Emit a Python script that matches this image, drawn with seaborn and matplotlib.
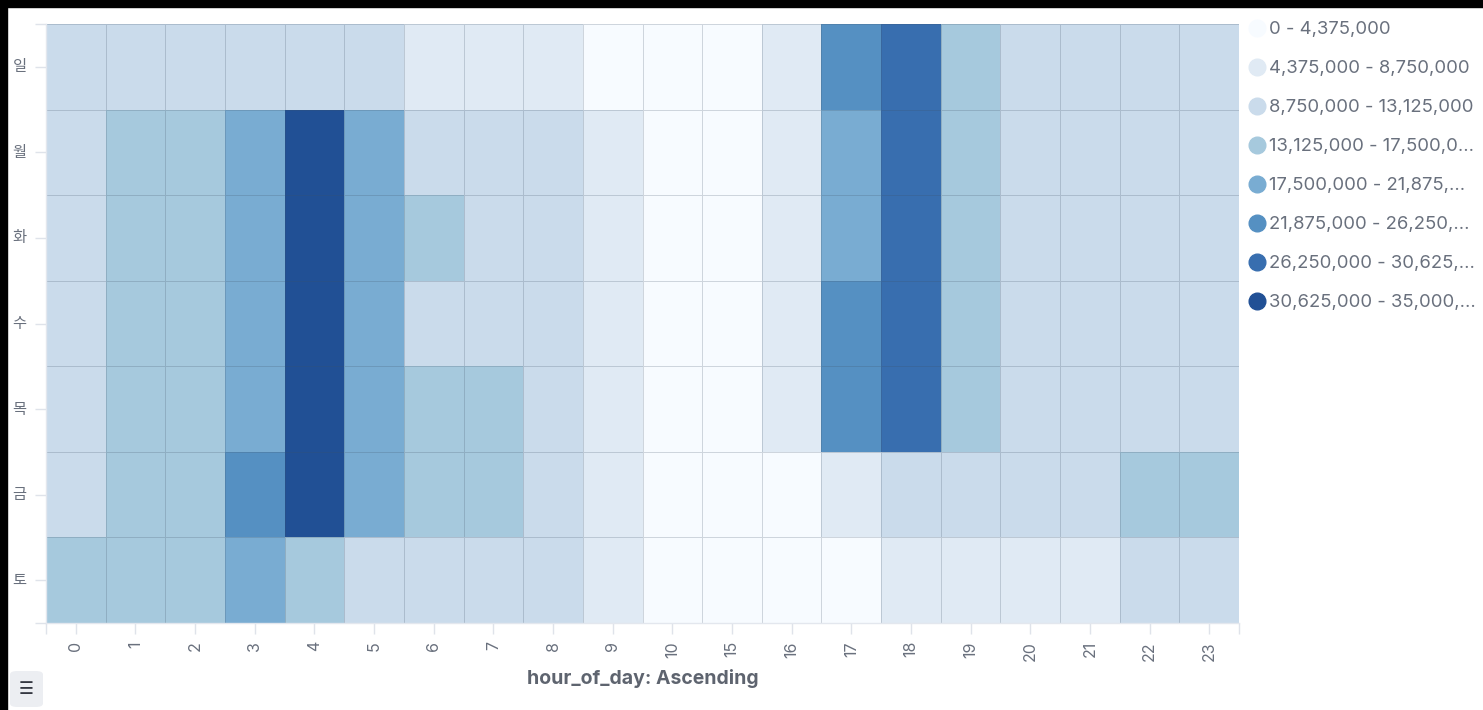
import numpy as np
import pandas as pd
import matplotlib
matplotlib.use("Agg")
import matplotlib.pyplot as plt
from matplotlib.colors import ListedColormap
from matplotlib.lines import Line2D
from matplotlib.patches import Rectangle, FancyBboxPatch
import seaborn as sns

# ---- data (colour class of each cell) ----
days = ["일", "월", "화", "수", "목", "금", "토"]
hours = ["0", "1", "2", "3", "4", "5", "6", "7", "8", "9", "10",
         "15", "16", "17", "18", "19", "20", "21", "22", "23"]
row_sun = [2, 2, 2, 2, 2, 2, 1, 1, 1, 0, 0, 0, 1, 5, 6, 3, 2, 2, 2, 2]
row_mon = [2, 3, 3, 4, 7, 4, 2, 2, 2, 1, 0, 0, 1, 4, 6, 3, 2, 2, 2, 2]
row_tue = [2, 3, 3, 4, 7, 4, 3, 2, 2, 1, 0, 0, 1, 4, 6, 3, 2, 2, 2, 2]
row_wed = [2, 3, 3, 4, 7, 4, 2, 2, 2, 1, 0, 0, 1, 5, 6, 3, 2, 2, 2, 2]
row_thu = [2, 3, 3, 4, 7, 4, 3, 3, 2, 1, 0, 0, 1, 5, 6, 3, 2, 2, 2, 2]
row_fri = [2, 3, 3, 5, 7, 4, 3, 3, 2, 1, 0, 0, 0, 1, 2, 2, 2, 2, 3, 3]
row_sat = [3, 3, 3, 4, 3, 2, 2, 2, 2, 1, 0, 0, 0, 0, 1, 1, 1, 1, 2, 2]

legend_labels = ["0 - 4,375,000", "4,375,000 - 8,750,000", "8,750,000 - 13,125,000",
                 "13,125,000 - 17,500,0...", "17,500,000 - 21,875,...",
                 "21,875,000 - 26,250,...", "26,250,000 - 30,625,...",
                 "30,625,000 - 35,000,..."]
class_colors = ["#f7fbff", "#e0eaf4", "#cadbeb", "#a6c9dd",
                "#79acd2", "#5590c2", "#386eaf", "#215095"]
x_title = "hour_of_day: Ascending"

df = pd.DataFrame([row_sun, row_mon, row_tue, row_wed, row_thu, row_fri, row_sat],
                  index=days, columns=hours)

sns.set_theme(style="white")
plt.rcParams["font.family"] = ["Inter", "Noto Sans CJK KR", "DejaVu Sans"]

W, H = 1483, 710
fig = plt.figure(figsize=(W / 100, H / 100), dpi=100)
ax = fig.add_axes([46 / W, 1 - 623 / H, (1239 - 46) / W, (623 - 24) / H])

cmap = ListedColormap(class_colors)
sns.heatmap(df, ax=ax, cmap=cmap, vmin=-0.5, vmax=len(class_colors) - 0.5,
            cbar=False, linewidths=0.6, linecolor=(0.25, 0.32, 0.40, 0.22))

txt = "#69707d"
ax.set_xticks(np.arange(len(hours)) + 0.5)
ax.set_xticklabels(hours, rotation=90, fontsize=11.5, color=txt)
ax.set_yticks(np.arange(len(days)) + 0.5)
ax.set_yticklabels(days, rotation=0, fontsize=11, color=txt)
ax.set_xticks([0, len(hours)], minor=True)
ax.set_yticks([0, len(days)], minor=True)
for which in ("major", "minor"):
    ax.tick_params(axis="both", which=which, length=8, width=1, color="#dfe3ea",
                   left=True, bottom=True)
ax.tick_params(axis="x", pad=5)
ax.tick_params(axis="y", pad=6)
ax.set_ylabel("")
ax.set_xlabel(x_title, fontsize=14, fontweight="bold", color="#5e646f", labelpad=6)
for s in ("left", "bottom"):
    ax.spines[s].set_visible(True)
    ax.spines[s].set_color("#e3e7ee")
    ax.spines[s].set_linewidth(1)
for s in ("top", "right"):
    ax.spines[s].set_visible(False)

# legend
handles = [Line2D([], [], marker="o", linestyle="none", markersize=12,
                  markerfacecolor=c, markeredgecolor=c) for c in class_colors]
fig.legend(handles, legend_labels, loc="upper left",
           bbox_to_anchor=(1239 / W, 1 - 14 / H), frameon=False,
           fontsize=13.3, labelcolor=txt, handletextpad=0.1, handlelength=1.1,
           labelspacing=1.19, borderaxespad=0)

# screenshot frame (black band at top and left)
fig.patches.append(Rectangle((0, 1 - 7 / H), 1, 7 / H, transform=fig.transFigure,
                             color="black", zorder=10))
fig.patches.append(Rectangle((0, 0), 7 / W, 1, transform=fig.transFigure,
                             color="black", zorder=10))

# bottom-left legend toggle button
fig.patches.append(FancyBboxPatch((10 / W, 3 / H), 33 / W, 36 / H,
                                  boxstyle="round,pad=0,rounding_size=0.005",
                                  transform=fig.transFigure, facecolor="#eceef2",
                                  edgecolor="none", zorder=5))
fig.text(26.5 / W, 21 / H, "☰", fontsize=12, color="#343741", ha="center", va="center",
         family=["DejaVu Sans"], zorder=6)

fig.savefig("out.png", dpi=100, facecolor="white")
